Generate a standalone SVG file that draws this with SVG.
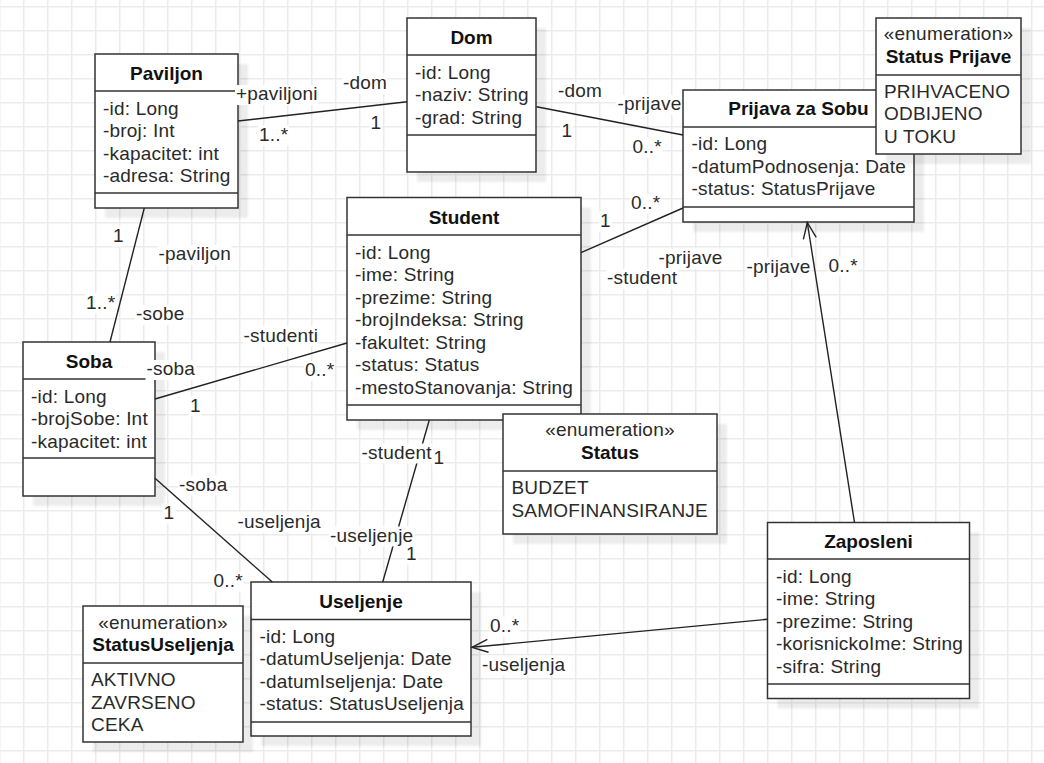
<svg xmlns="http://www.w3.org/2000/svg" width="1044" height="763" viewBox="0 0 1044 763">
<defs>
<pattern id="grid" x="23" y="6" width="24" height="24" patternUnits="userSpaceOnUse">
<rect x="0" y="0" width="1.5" height="24" fill="#ebebeb"/>
<rect x="0" y="0" width="24" height="1.5" fill="#ebebeb"/>
</pattern>
<filter id="blur" x="-10%" y="-10%" width="120%" height="120%"><feGaussianBlur stdDeviation="1.2"/></filter>
<marker id="open" markerUnits="userSpaceOnUse" markerWidth="20" markerHeight="18" viewBox="-18 -9 20 18" refX="0" refY="0" orient="auto" overflow="visible">
<path d="M-16,-6.5 L0,0 L-16,6.5" fill="none" stroke="#222" stroke-width="1.4"/>
</marker>
<style>
.box{fill:#fff;stroke:#333;stroke-width:1.5}
.sep{stroke:#333;stroke-width:1.5}
.sh{fill:#000;opacity:0.07;filter:url(#blur)}
.t{font-family:"Liberation Sans",Arial,sans-serif;font-size:19px;letter-spacing:0.2px;fill:#2a2a2a}
.b{font-weight:bold;text-anchor:middle;fill:#111;letter-spacing:0}
.c{text-anchor:middle}
.edge{stroke:#222;stroke-width:1.4;fill:none}
.lb{fill:#fff}
</style>
</defs>
<rect width="1044" height="763" fill="#fff"/>
<rect width="1044" height="763" fill="url(#grid)"/>

<g id="paviljon">
<rect class="sh" x="105" y="64" width="143" height="154"/>
<rect class="box" x="95" y="54" width="143" height="154"/>
<line class="sep" x1="95" y1="91" x2="238" y2="91"/>
<line class="sep" x1="95" y1="193" x2="238" y2="193"/>
<text class="t b" x="166.5" y="80">Paviljon</text>
<text class="t" x="103" y="114.5">-id: Long</text>
<text class="t" x="103" y="137">-broj: Int</text>
<text class="t" x="103" y="159.5">-kapacitet: int</text>
<text class="t" x="103" y="182">-adresa: String</text>
</g>

<g id="dom">
<rect class="sh" x="417" y="28" width="129" height="154"/>
<rect class="box" x="407" y="18" width="129" height="154"/>
<line class="sep" x1="407" y1="55" x2="536" y2="55"/>
<line class="sep" x1="407" y1="135" x2="536" y2="135"/>
<text class="t b" x="471.5" y="44">Dom</text>
<text class="t" x="415" y="78.5">-id: Long</text>
<text class="t" x="415" y="101">-naziv: String</text>
<text class="t" x="415" y="123.5">-grad: String</text>
</g>

<g id="prijava">
<rect class="sh" x="693" y="100" width="231" height="132"/>
<rect class="box" x="683" y="90" width="231" height="132"/>
<line class="sep" x1="683" y1="127" x2="914" y2="127"/>
<line class="sep" x1="683" y1="207" x2="914" y2="207"/>
<text class="t b" x="798.5" y="115">Prijava za Sobu</text>
<text class="t" x="691.5" y="150">-id: Long</text>
<text class="t" x="691.5" y="172.5">-datumPodnosenja: Date</text>
<text class="t" x="691.5" y="195">-status: StatusPrijave</text>
</g>

<g id="statusPrijave">
<rect class="sh" x="886" y="28" width="145" height="136"/>
<rect class="box" x="876" y="18" width="145" height="136"/>
<line class="sep" x1="876" y1="75" x2="1021" y2="75"/>
<text class="t c" x="948.5" y="39.5">«enumeration»</text>
<text class="t b" x="948.5" y="62.5">Status Prijave</text>
<text class="t" x="884" y="97.5">PRIHVACENO</text>
<text class="t" x="884" y="120">ODBIJENO</text>
<text class="t" x="884" y="142.5">U TOKU</text>
</g>

<g id="student">
<rect class="sh" x="357" y="207.5" width="234" height="222.5"/>
<rect class="box" x="347" y="197.5" width="234" height="222.5"/>
<line class="sep" x1="347" y1="235" x2="581" y2="235"/>
<line class="sep" x1="347" y1="405" x2="581" y2="405"/>
<text class="t b" x="464" y="223.5">Student</text>
<text class="t" x="355" y="258.5">-id: Long</text>
<text class="t" x="355" y="281">-ime: String</text>
<text class="t" x="355" y="303.5">-prezime: String</text>
<text class="t" x="355" y="326">-brojIndeksa: String</text>
<text class="t" x="355" y="348.5">-fakultet: String</text>
<text class="t" x="355" y="371">-status: Status</text>
<text class="t" x="355" y="393.5">-mestoStanovanja: String</text>
</g>

<g id="soba">
<rect class="sh" x="33" y="352" width="132" height="154"/>
<rect class="box" x="23" y="342" width="132" height="154"/>
<line class="sep" x1="23" y1="379" x2="155" y2="379"/>
<line class="sep" x1="23" y1="458" x2="155" y2="458"/>
<text class="t b" x="89" y="367.5">Soba</text>
<text class="t" x="31" y="402.5">-id: Long</text>
<text class="t" x="31" y="425">-brojSobe: Int</text>
<text class="t" x="31" y="447.5">-kapacitet: int</text>
</g>

<g id="status">
<rect class="sh" x="513" y="424" width="214" height="120"/>
<rect class="box" x="503" y="414" width="214" height="120"/>
<line class="sep" x1="503" y1="471" x2="717" y2="471"/>
<text class="t c" x="610" y="436">«enumeration»</text>
<text class="t b" x="610" y="458.5">Status</text>
<text class="t" x="511.5" y="494">BUDZET</text>
<text class="t" x="511.5" y="516.5">SAMOFINANSIRANJE</text>
</g>

<g id="useljenje">
<rect class="sh" x="261" y="592" width="220" height="154"/>
<rect class="box" x="251" y="582" width="220" height="154"/>
<line class="sep" x1="251" y1="619.5" x2="471" y2="619.5"/>
<line class="sep" x1="251" y1="722" x2="471" y2="722"/>
<text class="t b" x="361" y="607.5">Useljenje</text>
<text class="t" x="259.5" y="642.5">-id: Long</text>
<text class="t" x="259.5" y="665">-datumUseljenja: Date</text>
<text class="t" x="259.5" y="687.5">-datumIseljenja: Date</text>
<text class="t" x="259.5" y="710">-status: StatusUseljenja</text>
</g>

<g id="statusUseljenja">
<rect class="sh" x="93" y="616" width="160" height="136"/>
<rect class="box" x="83" y="606" width="160" height="136"/>
<line class="sep" x1="83" y1="663" x2="243" y2="663"/>
<text class="t c" x="163" y="628.5">«enumeration»</text>
<text class="t b" x="163" y="651">StatusUseljenja</text>
<text class="t" x="91" y="686">AKTIVNO</text>
<text class="t" x="91" y="708.5">ZAVRSENO</text>
<text class="t" x="91" y="731">CEKA</text>
</g>

<g id="zaposleni">
<rect class="sh" x="777.5" y="532.5" width="202" height="176"/>
<rect class="box" x="767.5" y="522.5" width="202" height="176"/>
<line class="sep" x1="767.5" y1="559" x2="969.5" y2="559"/>
<line class="sep" x1="767.5" y1="684" x2="969.5" y2="684"/>
<text class="t b" x="868.5" y="547.5">Zaposleni</text>
<text class="t" x="776" y="582.5">-id: Long</text>
<text class="t" x="776" y="605">-ime: String</text>
<text class="t" x="776" y="627.5">-prezime: String</text>
<text class="t" x="776" y="650">-korisnickoIme: String</text>
<text class="t" x="776" y="672.5">-sifra: String</text>
</g>

<g id="connectors">
<path class="edge" d="M238,121 L407,101.7"/>
<path class="edge" d="M536.5,106.7 L683,135"/>
<path class="edge" d="M581,252.7 L683,208"/>
<path class="edge" d="M144.3,208 L110,342"/>
<path class="edge" d="M155,399 L347,343"/>
<path class="edge" d="M155,478.3 L272.3,582"/>
<path class="edge" d="M429.3,420 L382.7,582"/>
<path class="edge" d="M854.5,522.5 L807.3,222.5" marker-end="url(#open)"/>
<path class="edge" d="M767.5,619.3 L472,647.3" marker-end="url(#open)"/>

<rect class="lb" x="235" y="85" width="83" height="20"/><text class="t" x="236" y="100">+paviljoni</text>
<rect class="lb" x="258" y="125.5" width="31" height="20"/><text class="t" x="259" y="140.5">1..*</text>
<rect class="lb" x="342" y="74" width="46" height="20"/><text class="t" x="343" y="89">-dom</text>
<rect class="lb" x="369.5" y="114" width="12.6" height="20"/><text class="t" x="370.5" y="129">1</text>

<rect class="lb" x="557" y="82" width="46" height="20"/><text class="t" x="558" y="97">-dom</text>
<rect class="lb" x="560.5" y="121.5" width="12.6" height="20"/><text class="t" x="561.5" y="136.5">1</text>
<rect class="lb" x="616.5" y="95" width="65" height="20"/><text class="t" x="617.5" y="110">-prijave</text>
<rect class="lb" x="631.5" y="137.5" width="31" height="20"/><text class="t" x="632.5" y="152.5">0..*</text>

<rect class="lb" x="599" y="211.5" width="12.6" height="20"/><text class="t" x="600" y="226.5">1</text>
<rect class="lb" x="630" y="194" width="31" height="20"/><text class="t" x="631" y="209">0..*</text>
<rect class="lb" x="657.5" y="248.5" width="65" height="20"/><text class="t" x="658.5" y="263.5">-prijave</text>
<rect class="lb" x="606" y="269" width="72" height="20"/><text class="t" x="607" y="284">-student</text>

<rect class="lb" x="112" y="226.5" width="12.6" height="20"/><text class="t" x="113" y="241.5">1</text>
<rect class="lb" x="157.5" y="245" width="74" height="20"/><text class="t" x="158.5" y="260">-paviljon</text>
<rect class="lb" x="85" y="293.5" width="31" height="20"/><text class="t" x="86" y="308.5">1..*</text>
<rect class="lb" x="135" y="305" width="50.5" height="20"/><text class="t" x="136" y="320">-sobe</text>

<rect class="lb" x="242.5" y="326.5" width="76.5" height="20"/><text class="t" x="243.5" y="341.5">-studenti</text>
<rect class="lb" x="304" y="361" width="31" height="20"/><text class="t" x="305" y="376">0..*</text>
<rect class="lb" x="145.5" y="360" width="50.5" height="20"/><text class="t" x="146.5" y="375">-soba</text>
<rect class="lb" x="189" y="396.5" width="12.6" height="20"/><text class="t" x="190" y="411.5">1</text>

<rect class="lb" x="178" y="475.5" width="50.5" height="20"/><text class="t" x="179" y="490.5">-soba</text>
<rect class="lb" x="162.5" y="503.5" width="12.6" height="20"/><text class="t" x="163.5" y="518.5">1</text>
<rect class="lb" x="236.5" y="512.5" width="85.5" height="20"/><text class="t" x="237.5" y="527.5">-useljenja</text>
<rect class="lb" x="212.5" y="571.5" width="31" height="20"/><text class="t" x="213.5" y="586.5">0..*</text>

<rect class="lb" x="360.5" y="443.5" width="72" height="20"/><text class="t" x="361.5" y="458.5">-student</text>
<rect class="lb" x="432.5" y="448.5" width="12.6" height="20"/><text class="t" x="433.5" y="463.5">1</text>
<rect class="lb" x="329" y="526.5" width="85.5" height="20"/><text class="t" x="330" y="541.5">-useljenje</text>
<rect class="lb" x="405" y="544.5" width="12.6" height="20"/><text class="t" x="406" y="559.5">1</text>

<rect class="lb" x="745.5" y="257.5" width="65" height="20"/><text class="t" x="746.5" y="272.5">-prijave</text>
<rect class="lb" x="827.5" y="256.5" width="31" height="20"/><text class="t" x="828.5" y="271.5">0..*</text>

<rect class="lb" x="489" y="616.5" width="31" height="20"/><text class="t" x="490" y="631.5">0..*</text>
<rect class="lb" x="481" y="655.5" width="85.5" height="20"/><text class="t" x="482" y="670.5">-useljenja</text>
</g>
</svg>
